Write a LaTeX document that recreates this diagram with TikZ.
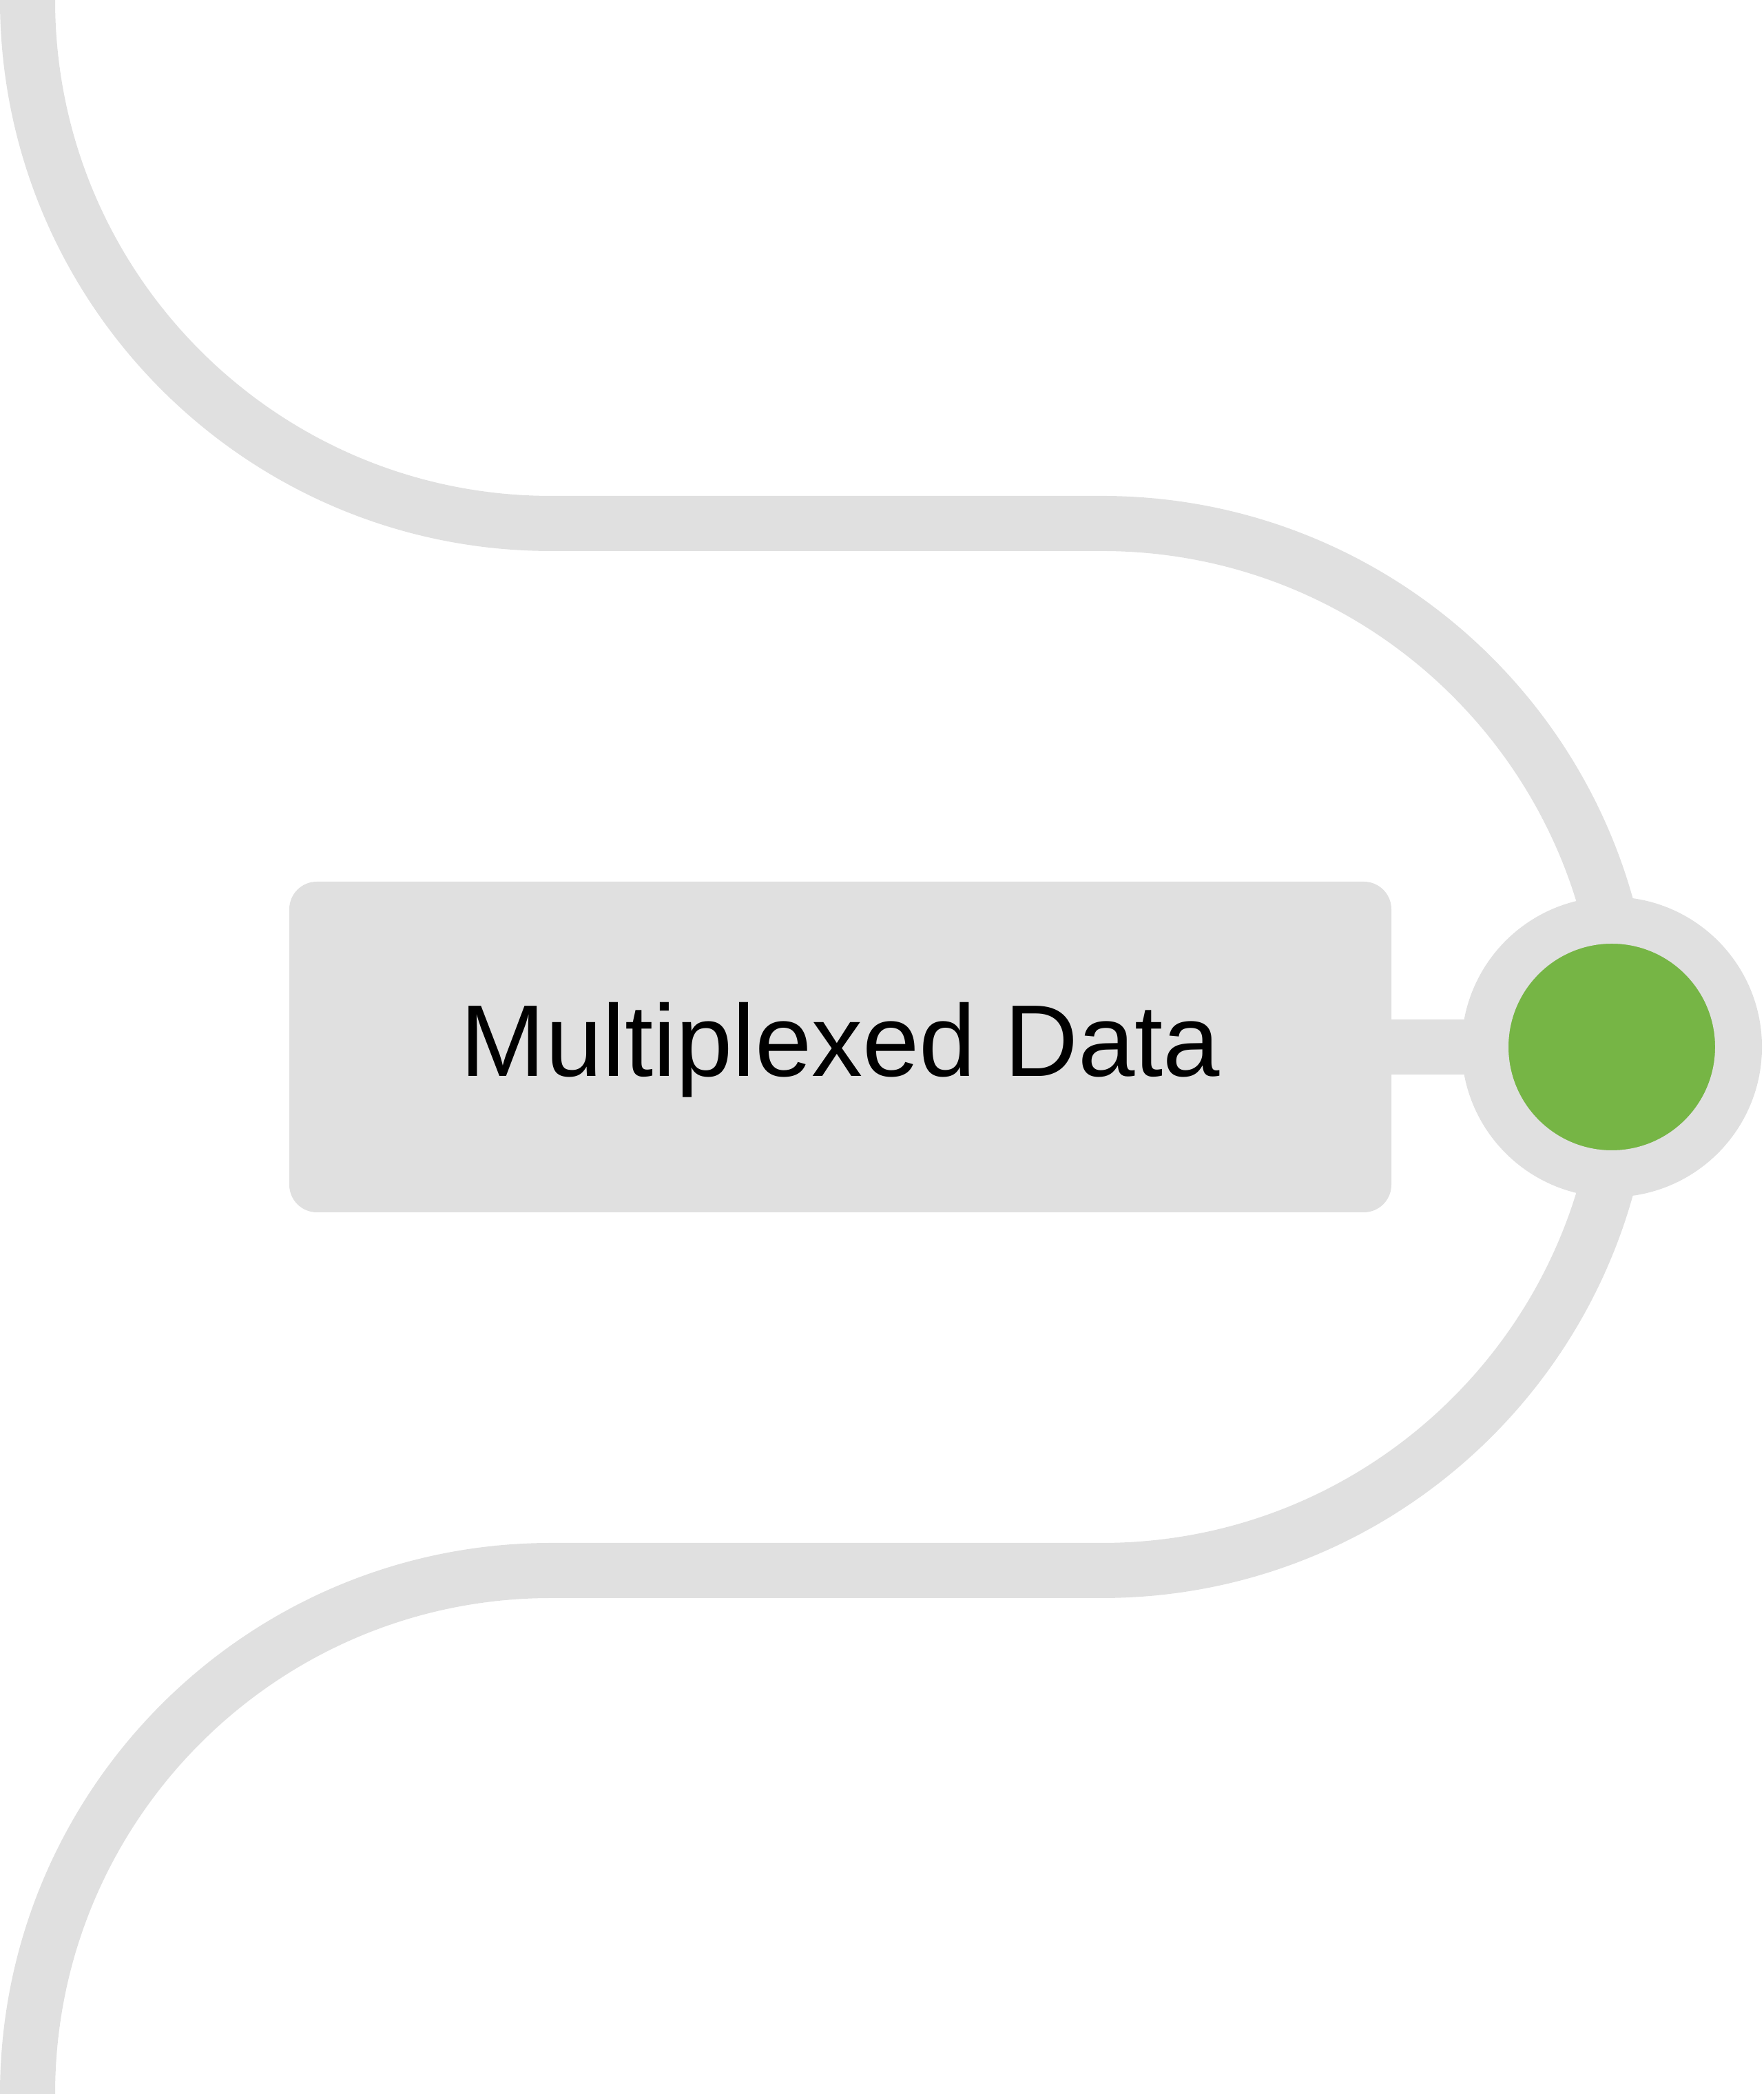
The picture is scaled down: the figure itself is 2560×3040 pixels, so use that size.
\documentclass[tikz,border=0pt]{standalone}
\usepackage{fontspec}
\setmainfont{Liberation Sans}
\usetikzlibrary{backgrounds}
\definecolor{track}{HTML}{E0E0E0}
\definecolor{dotgreen}{HTML}{76B545}
\tikzset{
  trackline/.style={draw=track, line width=24pt, line cap=butt},
  databox/.style={fill=track, rounded corners=12pt, minimum width=480pt, minimum height=144pt,
    inner sep=0pt, text height=25.8pt, text depth=0pt,
    font=\fontsize{44.4pt}{53pt}\selectfont, text=black},
  stationdot/.style={circle, fill=dotgreen, draw=track, line width=20.4pt, minimum size=110.4pt, inner sep=0pt}
}
\begin{document}
\begin{tikzpicture}[x=0.3pt, y=0.3pt]
\useasboundingbox (0,0) rectangle (2560,3040);
% snake track
\draw[trackline] (40,3040) arc[start angle=180, end angle=270, radius=228pt]
  -- (1600,2280) arc[start angle=90, end angle=-90, radius=228pt]
  -- (800,760) arc[start angle=90, end angle=180, radius=228pt];
% box
\node[databox] (box) at (1220,1520) {Multiplexed Data};
% station
\node[stationdot] (dot) at (2340,1520) {};
\begin{scope}[on background layer]
  \draw[trackline] (box.center) -- (dot.center);
\end{scope}
\end{tikzpicture}
\end{document}
